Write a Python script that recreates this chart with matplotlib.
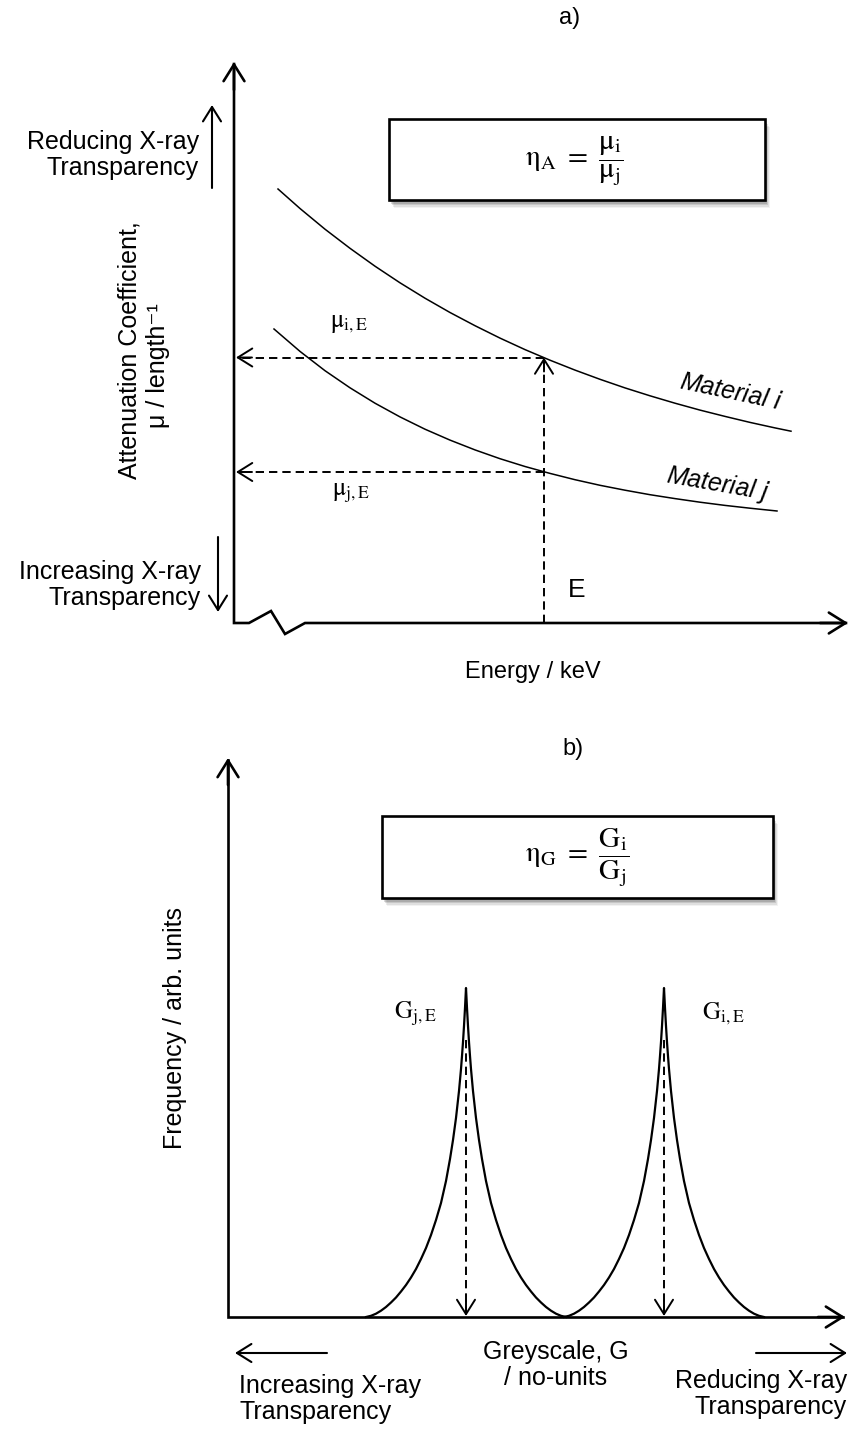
import matplotlib
matplotlib.use("Agg")
import matplotlib.pyplot as plt
from matplotlib.patches import Rectangle

plt.rcParams['font.family'] = ['Liberation Sans', 'DejaVu Sans']
plt.rcParams['lines.scale_dashes'] = False

# ---------------- data (in pixel units) ----------------
# panel a: attenuation curves
mat_i_x = [278, 300, 325, 350, 375, 400, 425, 450, 475, 500, 525, 550, 575, 600,
           625, 650, 675, 700, 725, 750, 775, 791]
mat_i_y = [189, 208.5, 229.2, 248.3, 266.2, 282.8, 298.2, 312.5, 325.7, 338.1, 349.6,
           360.2, 370.1, 379.3, 387.9, 395.8, 403.2, 410.1, 416.4, 422.4, 427.9, 431.2]
mat_j_x = [274, 300, 325, 350, 375, 400, 425, 450, 475, 500, 525, 550, 575, 600,
           625, 650, 675, 700, 725, 750, 777]
mat_j_y = [329, 351.4, 370.7, 387.8, 403.2, 416.9, 429.2, 440.1, 449.9, 458.7, 466.5,
           473.4, 479.7, 485.3, 490.2, 494.7, 498.6, 502.2, 505.4, 508.2, 511]
energy_E = 544          # selected energy E
mu_iE = 357.5           # attenuation of material i at E
mu_jE = 472             # attenuation of material j at E

# panel b: greyscale histogram peaks
peak_centres = [466, 664]           # G_j,E and G_i,E
peak_offsets = [0, 1, 2, 3, 4, 5, 7, 10, 13, 16, 20, 25, 30, 35, 40, 45, 50, 55,
                60, 65, 70, 75, 80, 85, 90, 95, 100]
peak_heights = [329, 309, 291, 275, 261, 248, 226, 199, 177, 158, 136, 114, 97, 82,
                69, 58, 48, 39.5, 32, 25.5, 19.5, 14.5, 10, 6.3, 3.3, 1.2, 0]

# ---------------- layout ----------------
W, H = 851, 1432
fig = plt.figure(figsize=(W / 100, H / 100), dpi=100)
ax = fig.add_axes([0, 0, 1, 1])
ax.set_xlim(0, W)
ax.set_ylim(H, 0)
ax.axis('off')

K = 'black'
AX_LW = 1.9
HEAD = '->,head_length=0.8,head_width=0.5'


def head(tip, frm, lw=AX_LW, ms=15):
    ax.annotate('', xy=tip, xytext=frm,
                arrowprops=dict(arrowstyle=HEAD, lw=lw, color=K,
                                mutation_scale=ms, shrinkA=0, shrinkB=0))


def box(x0, y0, x1, y1):
    for k, a in zip([8, 6.5, 5, 3.5, 2], [0.05, 0.08, 0.11, 0.14, 0.17]):
        ax.add_patch(Rectangle((x0 + k * 0.6, y0 + k), x1 - x0, y1 - y0,
                               facecolor='black', edgecolor='none', alpha=a, zorder=1))
    ax.add_patch(Rectangle((x0, y0), x1 - x0, y1 - y0, facecolor='white',
                           edgecolor=K, lw=1.9, zorder=2))


# ================= panel a =================
ax.text(570, 18, 'a)', fontsize=17, ha='center', va='center')
# axes with axis break
ax.plot([234, 234, 249, 271, 285, 305, 846], [64, 623, 623, 611, 634, 623, 623],
        color=K, lw=AX_LW, solid_joinstyle='miter')
head((234, 62), (234, 90))
head((848, 623), (820, 623))

# curves
ax.plot(mat_i_x, mat_i_y, color=K, lw=1.1)
ax.plot(mat_j_x, mat_j_y, color=K, lw=1.1)

# dashed guides
DASH = dict(color=K, lw=1.4, dashes=(6, 3.6))
ax.plot([energy_E, energy_E], [623, mu_iE + 2], **DASH)
ax.plot([energy_E, 238], [mu_iE, mu_iE], **DASH)
ax.plot([energy_E, 238], [mu_jE, mu_jE], **DASH)
head((energy_E, mu_iE), (energy_E, mu_iE + 14), lw=1.4, ms=13)
head((236, mu_iE), (252, mu_iE), lw=1.4, ms=13)
head((236, mu_jE), (252, mu_jE), lw=1.4, ms=13)

# labels
ax.text(349, 323, r'$\mathrm{\mu_{i,E}}$', fontsize=18, ha='center', va='center',
        math_fontfamily='stix')
ax.text(351, 493, r'$\mathrm{\mu_{j,E}}$', fontsize=18, ha='center', va='center',
        math_fontfamily='stix')
ax.text(731, 392, 'Material $i$', fontsize=18, style='italic', rotation=-12,
        ha='center', va='center', math_fontfamily='custom')
ax.text(718, 484, 'Material $j$', fontsize=18, style='italic', rotation=-10,
        ha='center', va='center', math_fontfamily='custom')
ax.text(577, 590, 'E', fontsize=19, ha='center', va='center')
ax.text(533, 672, 'Energy / keV', fontsize=17, ha='center', va='center')

box(389, 119, 765, 200)
ax.text(574, 161, r'$\mathrm{\eta_A}\ =\ \dfrac{\mathrm{\mu_i}}{\mathrm{\mu_j}}$',
        fontsize=21, ha='center', va='center', math_fontfamily='stix', zorder=3)

# side annotations
ax.text(199, 155, 'Reducing X-ray\nTransparency', fontsize=18, ha='right',
        va='center', multialignment='right', linespacing=1.15)
head((212, 105), (212, 188), lw=1.5, ms=13)
ax.text(201, 585, 'Increasing X-ray\nTransparency', fontsize=18, ha='right',
        va='center', multialignment='right', linespacing=1.15)
head((218, 612), (218, 537), lw=1.5, ms=13)
ax.text(129, 350, 'Attenuation Coefficient,', fontsize=18, rotation=90,
        ha='center', va='center')
ax.text(158, 366, 'μ / length⁻¹', fontsize=18, rotation=90,
        ha='center', va='center')

# ================= panel b =================
BASE = 1317
ax.text(573, 749, 'b)', fontsize=17, ha='center', va='center')
ax.plot([228, 228, 843], [760, BASE, BASE], color=K, lw=AX_LW,
        solid_joinstyle='miter')
head((228, 758), (228, 785))
head((845, BASE), (818, BASE))

for c in peak_centres:
    xs = [c - d for d in peak_offsets[::-1]] + [c + d for d in peak_offsets[1:]]
    hs = peak_heights[::-1] + peak_heights[1:]
    ax.plot(xs, [BASE - h for h in hs], color=K, lw=1.6)
    ax.plot([c, c], [1040, BASE - 4], **DASH)
    head((c, BASE - 1), (c, BASE - 16), lw=1.4, ms=13)

ax.text(415, 1014, r'$\mathrm{G_{j,E}}$', fontsize=18, ha='center', va='center',
        math_fontfamily='stix')
ax.text(723, 1014, r'$\mathrm{G_{i,E}}$', fontsize=18, ha='center', va='center',
        math_fontfamily='stix')

box(382, 816, 773, 898)
ax.text(577, 858, r'$\mathrm{\eta_G}\ =\ \dfrac{\mathrm{G_i}}{\mathrm{G_j}}$',
        fontsize=21, ha='center', va='center', math_fontfamily='stix', zorder=3)

ax.text(175, 1028, 'Frequency / arb. units', fontsize=18, rotation=90,
        ha='center', va='center')

ax.text(556, 1365, 'Greyscale, G\n/ no-units', fontsize=18, ha='center',
        va='center', linespacing=1.15)
head((235, 1353), (327, 1353), lw=1.5, ms=13)
head((847, 1353), (756, 1353), lw=1.5, ms=13)
ax.text(239, 1399, 'Increasing X-ray\nTransparency', fontsize=18, ha='left',
        va='center', multialignment='left', linespacing=1.15)
ax.text(847, 1394, 'Reducing X-ray\nTransparency', fontsize=18, ha='right',
        va='center', multialignment='right', linespacing=1.15)

fig.savefig('out.png', dpi=100)
